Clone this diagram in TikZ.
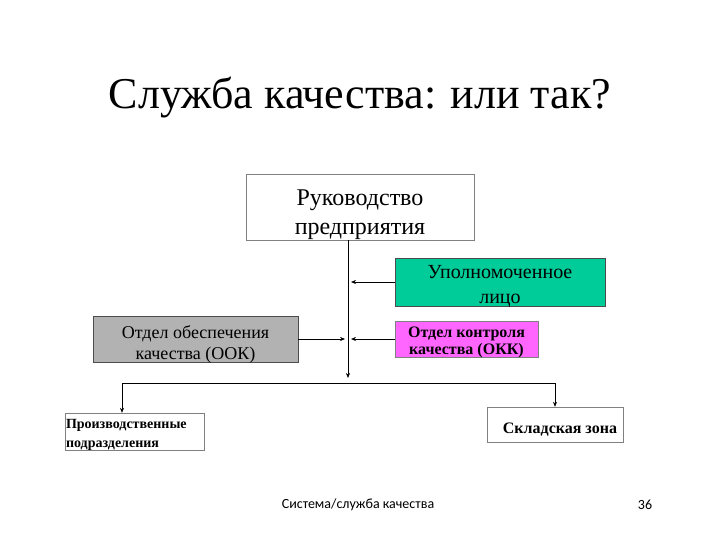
\documentclass[tikz,border=0pt]{standalone}
\usepackage{fontspec}
\setmainfont{Liberation Serif}
\newfontfamily\footfont{Carlito}
\usepackage{xcolor}
\usetikzlibrary{arrows.meta, positioning, calc}

\definecolor{boxgray}{HTML}{B2B2B2}
\definecolor{boxgreen}{HTML}{00CC99}
\definecolor{boxpink}{HTML}{FF66FF}
\definecolor{edgegray}{HTML}{808080}

\begin{document}
\begin{tikzpicture}[x=1pt, y=-1pt, >={Stealth[length=5pt, width=4pt]}]
    \tikzset{
        block/.style={rectangle, draw=edgegray, fill=white, inner sep=0pt},
        txt/.style={inner sep=0pt, align=center, font=\fontsize{18}{21}\selectfont},
        bold/.style={txt, font=\bfseries\fontsize{16}{17}\selectfont},
        line/.style={draw, ->, line width=0.6pt}
    }
    \useasboundingbox (0,0) rectangle (720,540);

    % title
    \node (Title) at (360,98) {\fontsize{44}{50}\selectfont Служба качества: или так?};

    % boxes
    \node (Head) [block, minimum width=228pt, minimum height=66pt] at (360,207) {};
    \node (Auth) [block, draw=black!70, fill=boxgreen, minimum width=210pt, minimum height=48pt] at (500,282) {};
    \node (OOK) [block, draw=black!70, fill=boxgray, minimum width=205pt, minimum height=46pt] at (195.5,339) {};
    \node (OKK) [block, fill=boxpink, minimum width=143pt, minimum height=36pt] at (466.5,339) {};
    \node (Prod) [block, minimum width=139pt, minimum height=37pt] at (134.5,431.5) {};
    \node (Store) [block, minimum width=136pt, minimum height=35pt] at (555,424.5) {};

    % box texts
    \node (HeadText) [txt, font=\fontsize{24}{29}\selectfont] at ($(Head)+(0,7.5)$) {Руководство\\предприятия};
    \node (AuthText) [txt, font=\fontsize{20}{25}\selectfont] at ($(Auth)+(0,4)$) {Уполномоченное\\лицо};
    \node (OOKText) [txt] at ($(OOK)+(0,5.5)$) {Отдел обеспечения\\качества (ООК)};
    \node (OKKText) [bold] at ($(OKK)+(0,3.5)$) {Отдел контроля\\качества (ОКК)};
    \node (ProdText) [bold, font=\bfseries\fontsize{14}{19}\selectfont, align=left, anchor=west] at ($(Prod.west)+(1,3)$) {Производственные\\подразделения};
    \node (StoreText) [bold] at ($(Store)+(5,5)$) {Складская зона};

    % spine and bus
    \coordinate (SpineTop) at (348,240);
    \coordinate (SpineEnd) at (348,378);
    \coordinate (BusL) at (122,383);
    \coordinate (BusR) at (555,383);

    \path [line] (SpineTop) -- (SpineEnd);
    \path [line] (Auth.west) -- (351,282);
    \path [line] (OKK.west) -- (351,339);
    \path [line] (OOK.east) -- (345,339);
    \draw [line width=0.6pt] (BusL) -- (BusR);
    \path [line] (BusL) -- (BusL |- Prod.north);
    \path [line] (BusR) -- (Store.north);

    % footer
    \node (Foot) at (358,505) {\footfont\fontsize{14}{16}\selectfont Система/служба качества};
    \node (Page) at (645,505) {\footfont\fontsize{14}{16}\selectfont 36};
\end{tikzpicture}
\end{document}
